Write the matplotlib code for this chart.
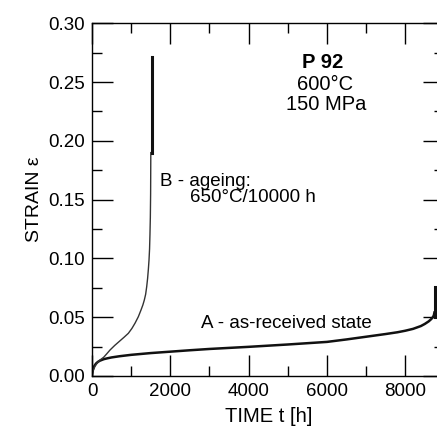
import matplotlib
matplotlib.use("Agg")
import matplotlib.pyplot as plt
from matplotlib.ticker import MultipleLocator

plt.rcParams['font.family'] = ['Liberation Sans', 'DejaVu Sans']

# Curve A - as-received state
time_a = [0, 10, 25, 50, 100, 150, 200, 300, 400, 500, 700, 1000, 1500, 2000,
          2500, 3000, 3500, 4000, 4500, 5000, 5500, 6000, 6500, 7000, 7500,
          7800, 8000, 8200, 8400, 8500, 8600, 8660, 8700, 8730, 8745]
strain_a = [0, 0.003, 0.0055, 0.008, 0.0105, 0.012, 0.013, 0.0143, 0.0151,
            0.0158, 0.0168, 0.018, 0.0195, 0.0207, 0.0219, 0.023, 0.0239,
            0.0248, 0.0258, 0.0268, 0.0279, 0.029, 0.0311, 0.0334, 0.0357,
            0.0372, 0.0385, 0.0401, 0.0425, 0.0443, 0.0465, 0.0483, 0.0498,
            0.0515, 0.054]
rupture_a_time = [8755, 8755]
rupture_a_strain = [0.05, 0.076]

# Curve B - ageing 650°C/10000 h
time_b = [0, 15, 40, 80, 130, 200, 300, 380, 460, 580, 700, 820, 928, 1020,
          1100, 1183, 1250, 1300, 1336, 1370, 1397, 1420, 1440, 1456, 1470,
          1480, 1490, 1497, 1502]
strain_b = [0, 0.0025, 0.0055, 0.0085, 0.011, 0.0135, 0.016, 0.019, 0.0221,
            0.026, 0.0295, 0.033, 0.0363, 0.0405, 0.045, 0.0504, 0.056, 0.0605,
            0.0646, 0.0695, 0.076, 0.083, 0.091, 0.0986, 0.108, 0.12, 0.135,
            0.155, 0.19]
rupture_b_time = [1530, 1530]
rupture_b_strain = [0.19, 0.2715]

fig = plt.figure(figsize=(4.37, 4.28), dpi=100)
W, H = 437, 428
x0, x1 = 92, 444.4
y0, y1 = 376, 23.3
ax = fig.add_axes([x0 / W, 1 - y0 / H, (x1 - x0) / W, (y0 - y1) / H])

ax.plot(time_a, strain_a, color='#111111', lw=1.8)
ax.plot(rupture_a_time, rupture_a_strain, color='#111111', lw=2.2)
ax.plot(time_b, strain_b, color='#333333', lw=1.0)
ax.plot(rupture_b_time, rupture_b_strain, color='#111111', lw=2.2)

ax.set_xlim(0, 9000)
ax.set_ylim(0, 0.30)
ax.xaxis.set_major_locator(MultipleLocator(2000))
ax.xaxis.set_minor_locator(MultipleLocator(1000))
ax.yaxis.set_major_locator(MultipleLocator(0.05))
ax.yaxis.set_minor_locator(MultipleLocator(0.025))
ax.xaxis.set_major_formatter(lambda v, p: f"{int(v)}")
ax.yaxis.set_major_formatter(lambda v, p: f"{v:.2f}")
ax.tick_params(which='both', direction='in', top=True, right=True,
               labelsize=13.5, width=1.0, pad=5, colors='black')
ax.tick_params(which='major', length=15)
ax.tick_params(which='minor', length=7.5)
for s in ax.spines.values():
    s.set_linewidth(1.0)

ax.set_xlabel("TIME t [h]", fontsize=14.5, labelpad=5)
ax.set_ylabel("STRAIN ε", fontsize=14, labelpad=4)

fig.text(323 / W, 1 - 63 / H, "P 92", fontsize=14.5, fontweight='bold',
         ha='center', va='center')
fig.text(325 / W, 1 - 84 / H, "600°C", fontsize=14.5, ha='center', va='center')
fig.text(326 / W, 1 - 104 / H, "150 MPa", fontsize=14.5, ha='center', va='center')
fig.text(160 / W, 1 - 181 / H, "B - ageing:", fontsize=13.5, ha='left', va='center')
fig.text(190 / W, 1 - 197 / H, "650°C/10000 h", fontsize=13.5, ha='left', va='center')
fig.text(201 / W, 1 - 323 / H, "A - as-received state", fontsize=13.5, ha='left', va='center')

fig.savefig("out.png", dpi=100)
